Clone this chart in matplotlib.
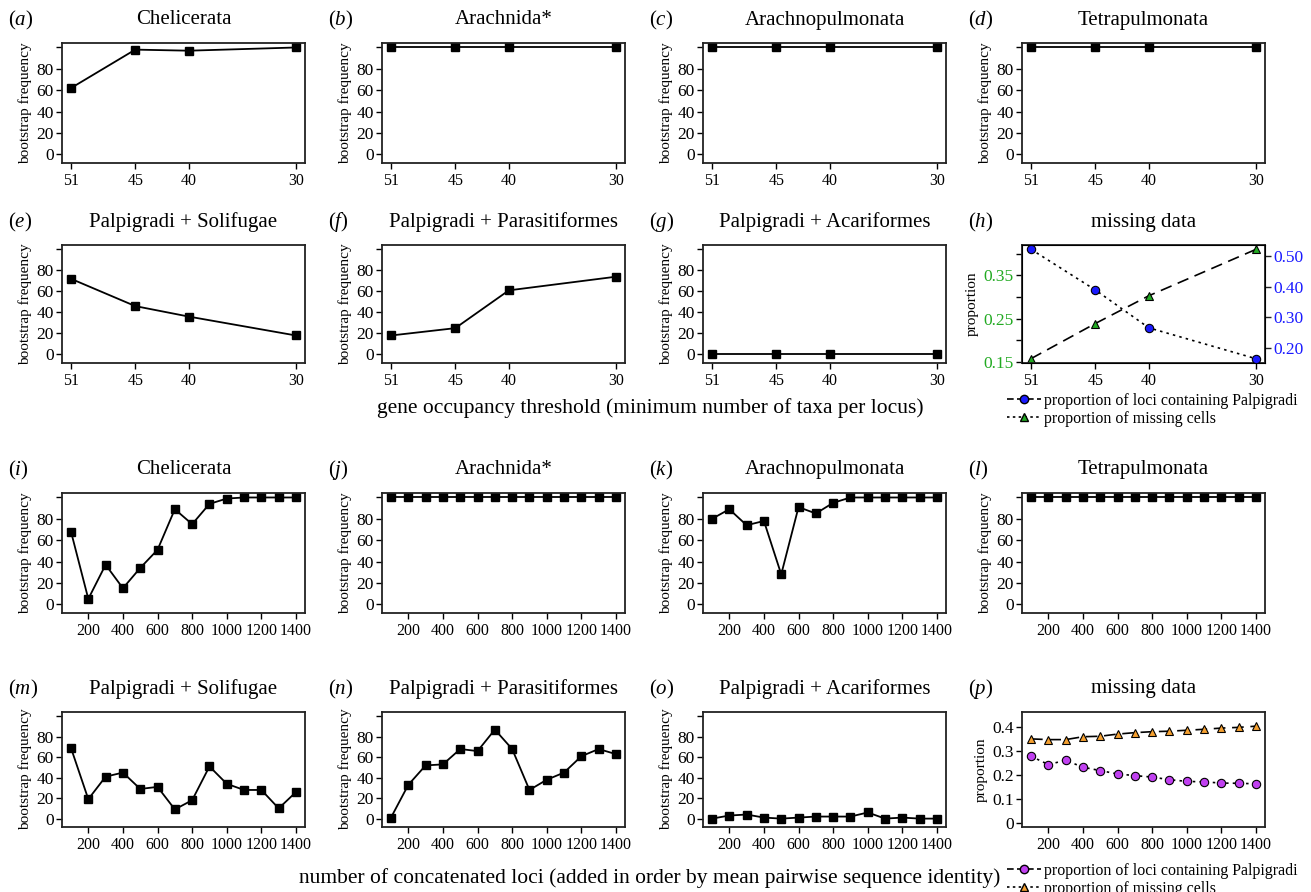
import numpy as np
import matplotlib
matplotlib.use('Agg')
from matplotlib import pyplot as plt
from matplotlib.lines import Line2D

plt.rcParams['font.family'] = ['Liberation Serif', 'DejaVu Serif']
plt.rcParams['mathtext.fontset'] = 'custom'
plt.rcParams['mathtext.rm'] = 'Liberation Serif'
plt.rcParams['mathtext.it'] = 'Liberation Serif:italic'
#=======================================
# Data
#=======================================
occupancy = [51, 45, 40, 30]
loci = [100, 200, 300, 400, 500, 600, 700, 800, 900, 1000, 1100, 1200, 1300, 1400]
loci_ticks = [200, 400, 600, 800, 1000, 1200, 1400]

top_titles = ['Chelicerata', 'Arachnida*', 'Arachnopulmonata', 'Tetrapulmonata',
              'Palpigradi + Solifugae', 'Palpigradi + Parasitiformes', 'Palpigradi + Acariformes']
top_letters = ['a', 'b', 'c', 'd', 'e', 'f', 'g']
top_values = [
    [62, 98, 97, 100],
    [100, 100, 100, 100],
    [100, 100, 100, 100],
    [100, 100, 100, 100],
    [72, 46, 36, 18],
    [18, 25, 61, 74],
    [0, 0, 0, 0],
]
h_loci_palp = [0.523, 0.39, 0.266, 0.165]
h_missing = [0.158, 0.239, 0.303, 0.41]

bot_titles = top_titles
bot_letters = ['i', 'j', 'k', 'l', 'm', 'n', 'o']
bot_values = [
    [68, 5, 37, 15, 34, 51, 89, 75, 94, 99, 100, 100, 100, 100],
    [100] * 14,
    [80, 89, 74, 78, 28, 91, 85, 95, 100, 100, 100, 100, 100, 100],
    [100] * 14,
    [69, 19, 41, 45, 29, 31, 9, 18, 51, 34, 28, 28, 10, 26],
    [1, 33, 52, 53, 68, 66, 87, 68, 28, 38, 45, 61, 68, 63],
    [0, 3, 4, 1, 0, 1, 2, 2, 2, 6, 0, 1, 0, 0],
]
p_loci_palp = [0.279, 0.244, 0.262, 0.233, 0.219, 0.205, 0.198, 0.192, 0.181, 0.174, 0.172, 0.167, 0.166, 0.164]
p_missing = [0.351, 0.348, 0.348, 0.360, 0.362, 0.371, 0.377, 0.381, 0.383, 0.387, 0.391, 0.396, 0.399, 0.404]

leg_labels = ['proportion of loci containing Palpigradi', 'proportion of missing cells']
#=======================================
# Layout (pixels)
#=======================================
W, H = 1311, 892
col_left = [62, 382, 703, 1022]
ax_w = 243
rows = [(43, 163), (245, 363), (493, 613), (712, 827)]
YTICK_FS = 12.5
XTICK_FS = 11.5

fig = plt.figure(figsize=(W / 100, H / 100), dpi=100)


def make_ax(r, c):
    top, bot = rows[r]
    ax = fig.add_axes([col_left[c] / W, 1 - bot / H, ax_w / W, (bot - top) / H])
    for s in ax.spines.values():
        s.set_linewidth(1.3)
        s.set_color('#222222')
    ax.tick_params(direction='out', length=4, width=1, pad=2)
    ax.tick_params(axis='y', labelsize=YTICK_FS)
    ax.tick_params(axis='x', labelsize=XTICK_FS, pad=3)
    return ax


def label(ax, r, c, letter, title):
    top, bot = rows[r]
    fig.text((col_left[c] - 54) / W, 1 - (top - 23) / H, '(' + r'$\mathit{' + letter + '}$' + ')',
             fontsize=15, va='center', ha='left')
    fig.text((col_left[c] + ax_w / 2) / W, 1 - (top - 23) / H, title,
             fontsize=15, va='center', ha='center')


def freq_axis(ax):
    ax.set_ylim(-8.2, 104.2)
    ax.set_yticks([0, 20, 40, 60, 80, 100])
    ax.set_yticklabels(['0', '20', '40', '60', '80', ''])
    ax.set_ylabel('bootstrap frequency', fontsize=11, labelpad=3)


positions = [(0, 0), (0, 1), (0, 2), (0, 3), (1, 0), (1, 1), (1, 2)]
for i, (r, c) in enumerate(positions):
    ax = make_ax(r, c)
    ax.plot(occupancy, top_values[i], color='black', lw=1.3, marker='s', ms=5.5)
    ax.set_xlim(51.84, 29.16)
    ax.set_xticks(occupancy)
    freq_axis(ax)
    label(ax, r, c, top_letters[i], top_titles[i])

# panel h
ax = make_ax(1, 3)
ax.plot(occupancy, h_missing, color='black', lw=1.2, ls=(0, (7, 4)), marker='^', ms=6,
        mfc='#22aa22', mec='black', mew=0.8)
ax.set_xlim(51.84, 29.16)
ax.set_xticks(occupancy)
ax.set_ylim(0.148, 0.42)
ax.set_yticks([0.15, 0.20, 0.25, 0.30, 0.35, 0.40])
ax.set_yticklabels(['0.15', '', '0.25', '', '0.35', ''])
for t in ax.get_yticklabels():
    t.set_color('#22aa22')
ax.set_ylabel('proportion', fontsize=11, labelpad=3)
ax2 = ax.twinx()
ax2.plot(occupancy, h_loci_palp, color='black', lw=1.2, ls=(0, (1.5, 2.5)), marker='o', ms=6,
         mfc='#1a1aff', mec='black', mew=0.8)
ax2.set_ylim(0.151, 0.537)
ax2.set_yticks([0.2, 0.3, 0.4, 0.5])
ax2.set_yticklabels(['0.20', '0.30', '0.40', '0.50'])
ax2.tick_params(direction='out', length=4, width=1, labelsize=YTICK_FS, pad=2, colors='#222222')
for t in ax2.get_yticklabels():
    t.set_color('#1a1aff')
label(ax, 1, 3, 'h', 'missing data')
hh = [Line2D([], [], color='black', lw=1.2, ls=(0, (4, 2)), marker='o', ms=6, mfc='#1a1aff', mec='black'),
      Line2D([], [], color='black', lw=1.2, ls=(0, (1.5, 2)), marker='^', ms=6, mfc='#22aa22', mec='black')]
fig.legend(hh, leg_labels, loc='upper left', bbox_to_anchor=(999 / W, 1 - 385 / H), frameon=False,
           fontsize=11.5, handlelength=2.1, handletextpad=0.2, labelspacing=0.12, borderpad=0)

for i, (r, c) in enumerate(positions):
    ax = make_ax(r + 2, c)
    ax.plot(loci, bot_values[i], color='black', lw=1.3, marker='s', ms=5.5)
    ax.set_xlim(48, 1452)
    ax.set_xticks(loci_ticks)
    freq_axis(ax)
    label(ax, r + 2, c, bot_letters[i], bot_titles[i])

# panel p
ax = make_ax(3, 3)
ax.plot(loci, p_missing, color='black', lw=1.2, ls=(0, (7, 4)), marker='^', ms=6,
        mfc='#f5a030', mec='black', mew=0.8)
ax.plot(loci, p_loci_palp, color='black', lw=1.2, ls=(0, (1.5, 2.5)), marker='o', ms=6,
        mfc='#c040f0', mec='black', mew=0.8)
ax.set_xlim(48, 1452)
ax.set_xticks(loci_ticks)
ax.set_ylim(-0.016, 0.463)
ax.set_yticks([0, 0.1, 0.2, 0.3, 0.4])
ax.set_yticklabels(['0', '0.1', '0.2', '0.3', '0.4'])
ax.set_ylabel('proportion', fontsize=11, labelpad=3)
label(ax, 3, 3, 'p', 'missing data')
hp = [Line2D([], [], color='black', lw=1.2, ls=(0, (4, 2)), marker='o', ms=6, mfc='#c040f0', mec='black'),
      Line2D([], [], color='black', lw=1.2, ls=(0, (1.5, 2)), marker='^', ms=6, mfc='#f5a030', mec='black')]
fig.legend(hp, leg_labels, loc='upper left', bbox_to_anchor=(999 / W, 1 - 855 / H), frameon=False,
           fontsize=11.5, handlelength=2.1, handletextpad=0.2, labelspacing=0.12, borderpad=0)

fig.text(650 / W, 1 - 408 / H, 'gene occupancy threshold (minimum number of taxa per locus)',
         fontsize=15.5, ha='center', va='center')
fig.text(650 / W, 1 - 878 / H, 'number of concatenated loci (added in order by mean pairwise sequence identity)',
         fontsize=15.5, ha='center', va='center')

fig.savefig('out.png', dpi=100)
